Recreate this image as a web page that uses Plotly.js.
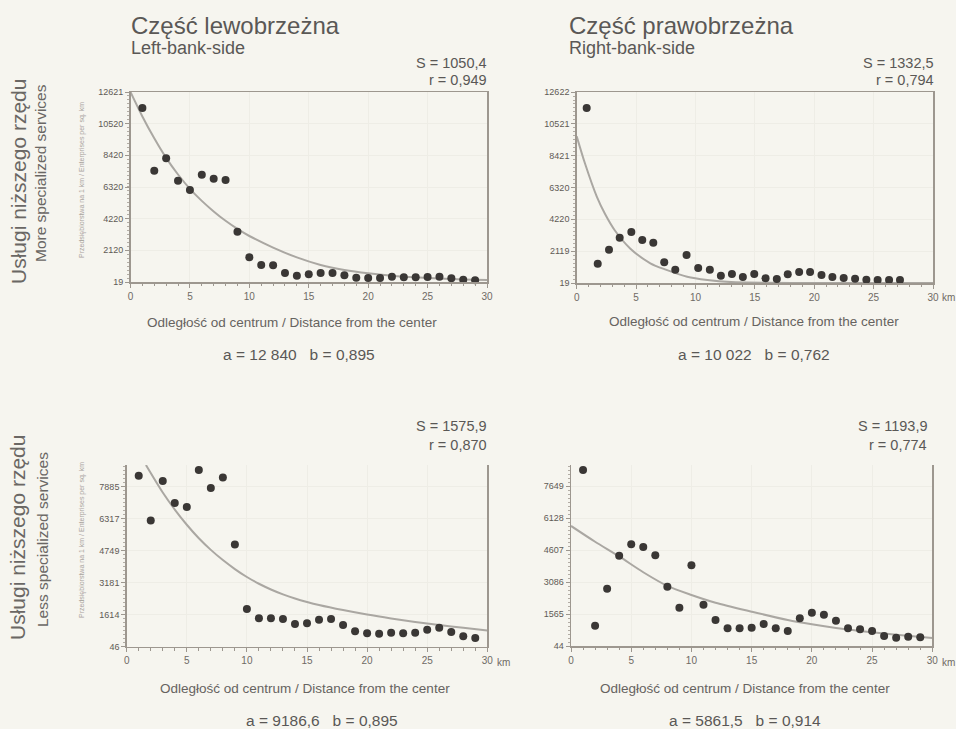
<!DOCTYPE html>
<html><head><meta charset="utf-8">
<script src="https://cdn.plot.ly/plotly-3.0.1.min.js"></script>
<style>html,body{margin:0;padding:0;background:#f6f5ef;}#chart{width:956px;height:729px;}</style>
</head><body><div id="chart"></div>
<script>
// ---- data ----
const distance = [1,2,3,4,5,6,7,8,9,10,11,12,13,14,15,16,17,18,19,20,21,22,23,24,25,26,27,28,29];
const leftMore = [11560,7404,8222,6740,6121,7138,6873,6785,3358,1655,1147,1125,616,439,527,616,616,461,306,284,284,373,329,329,351,373,262,174,130];
const rightMoreX = [0.84,1.77,2.72,3.62,4.60,5.52,6.45,7.37,8.30,9.25,10.23,11.21,12.14,13.07,13.99,14.95,15.90,16.85,17.77,18.73,19.65,20.61,21.53,22.48,23.44,24.39,25.34,26.30,27.22];
const rightMore = [11566,1295,2219,3010,3384,2856,2680,1383,899,1867,1009,899,503,613,415,613,327,283,591,745,745,547,415,349,305,239,217,217,217];
const leftLess = [8423,6235,8162,7084,6888,8701,7819,8342,5059,1891,1434,1434,1401,1156,1189,1369,1401,1107,797,699,683,732,699,732,879,977,765,552,471];
const rightLess = [8408,1010,2768,4337,4875,4748,4352,2864,1866,3877,2008,1280,884,884,915,1089,884,757,1359,1628,1533,1248,884,836,757,519,440,488,456];

const leftMoreFitX = [0,1,2,3,4,5,6,7,8,9,10,12,14,16,18,20,22,24,26,28,30];
const leftMoreFit = [12621,11000,9550,8250,7150,6200,5400,4700,4080,3540,3070,2300,1650,1150,820,600,440,330,250,190,150];
const rightMoreFitX = [0,0.7,1.7,2.4,3.2,4.5,6.2,7.5,9.3,11,13,16,20,25,30];
const rightMoreFit = [9700,7900,5700,4550,3500,2300,1320,900,435,220,80,35,25,22,20];
const leftLessFitX = [1.6,3,4,5,6,7,8,9,10,11,12,13,14,15,16,18,20,22,24,26,28,30];
const leftLessFit = [8949,7600,6765,6022,5360,4790,4290,3850,3460,3130,2850,2610,2410,2240,2090,1840,1620,1430,1260,1110,970,840];
const rightLessFitX = [0,2,4,6,8,10,12,15,18,20,22,25,27,30];
const rightLessFit = [5750,5000,4300,3550,2900,2470,2100,1676,1280,1074,900,693,580,424];

const xTicks = [0,5,10,15,20,25,30];
const xLabels = ["0","5","10","15","20","25","30"];
const yTicks1 = [19,2120,4220,6320,8420,10520,12621];
const yTicks2 = [19,2119,4220,6320,8421,10521,12622];
const yTicks3 = [46,1614,3181,4749,6317,7885];
const yTicks4 = [44,1565,3086,4607,6128,7649];

const titlesPL = ["Część lewobrzeżna","Część prawobrzeżna"];
const titlesEN = ["Left-bank-side","Right-bank-side"];
const sVals = ["S = 1050,4","S = 1332,5","S = 1575,9","S = 1193,9"];
const rVals = ["r = 0,949","r = 0,794","r = 0,870","r = 0,774"];
const abVals = ["a = 12 840&nbsp;&nbsp;&nbsp;b = 0,895","a = 10 022&nbsp;&nbsp;&nbsp;b = 0,762","a = 9186,6&nbsp;&nbsp;&nbsp;b = 0,895","a = 5861,5&nbsp;&nbsp;&nbsp;b = 0,914"];
const xTitle = "Odległość od centrum / Distance from the center";
const yTitle = "Przedsiębiorstwa na 1 km / Enterprises per sq. km";
const rowPL = ["Usługi niższego rzędu","Usługi niższego rzędu"];
const rowEN = ["More specialized services","Less specialized services"];

// ---- drawing ----
const W = 956, H = 729;
const fx = p => p / W, fy = p => 1 - p / H;
const FONT = "Liberation Sans, Arial, sans-serif";
const NARROW = "Liberation Sans Narrow, Liberation Sans, Arial, sans-serif";
const dotColor = "#3a3735", fitColor = "#aaa7a2", axisColor = "#9d978f";

function pts(x, y, ax) {
  return {x: x, y: y, type: "scatter", mode: "markers", xaxis: "x" + ax, yaxis: "y" + ax,
    marker: {size: 8, color: dotColor, line: {width: 0}}, hoverinfo: "x+y", showlegend: false, cliponaxis: false};
}
function fit(x, y, ax) {
  return {x: x, y: y, type: "scatter", mode: "lines", xaxis: "x" + ax, yaxis: "y" + ax,
    line: {color: fitColor, width: 2, shape: "spline", smoothing: 0.8}, hoverinfo: "skip", showlegend: false};
}
const data = [
  fit(leftMoreFitX, leftMoreFit, ""), pts(distance, leftMore, ""),
  fit(rightMoreFitX, rightMoreFit, "2"), pts(rightMoreX, rightMore, "2"),
  fit(leftLessFitX, leftLessFit, "3"), pts(distance, leftLess, "3"),
  fit(rightLessFitX, rightLessFit, "4"), pts(distance, rightLess, "4")
];

function xax(d, anchor, mirror) {
  return {domain: d, anchor: anchor, range: [0, 30], tickvals: xTicks, ticktext: xLabels,
    showline: true, linecolor: axisColor, linewidth: 1.5, mirror: mirror,
    ticks: "outside", ticklen: 4, tickcolor: axisColor, tickfont: {family: NARROW, size: 10, color: "#6f6a65"},
    minor: {dtick: 1, tick0: 0, ticks: "outside", ticklen: 2.5, tickcolor: axisColor, showgrid: false},
    showgrid: true, gridcolor: "#eeede6", gridwidth: 1, zeroline: false, fixedrange: true};
}
function yax(d, anchor, range, ticks) {
  const step = (ticks[1] - ticks[0]) / 8;
  return {domain: d, anchor: anchor, range: range, tickvals: ticks, ticktext: ticks.map(String),
    showline: true, linecolor: axisColor, linewidth: 1.5, mirror: true,
    ticks: "outside", ticklen: 4, tickcolor: axisColor, tickfont: {family: NARROW, size: 9, color: "#5f5a55"},
    minor: {dtick: step, tick0: ticks[0], ticks: "outside", ticklen: 2, tickcolor: "#b3ada5", showgrid: false},
    showgrid: true, gridcolor: "#eeede6", gridwidth: 1, zeroline: false, fixedrange: true};
}

const layout = {
  width: W, height: H, margin: {l: 0, r: 0, t: 0, b: 0},
  paper_bgcolor: "#f6f5ef", plot_bgcolor: "rgba(0,0,0,0)", showlegend: false,
  xaxis:  xax([fx(130.5), fx(487)], "y", true),
  yaxis:  yax([fy(282), fy(92)], "x", [19, 12621], yTicks1),
  xaxis2: xax([fx(576.7), fx(933)], "y2", true),
  yaxis2: yax([fy(283), fy(92)], "x2", [19, 12622], yTicks2),
  xaxis3: xax([fx(126.7), fx(487.3)], "y3", false),
  yaxis3: yax([fy(646.7), fy(465)], "x3", [46, 8949], yTicks3),
  xaxis4: xax([fx(571), fx(932.3)], "y4", false),
  yaxis4: yax([fy(646), fy(465)], "x4", [44, 8647], yTicks4),
  annotations: []
};

function ann(text, x, y, size, xanchor, color, extra) {
  layout.annotations.push(Object.assign({text: text, x: fx(x), y: fy(y), xref: "paper", yref: "paper",
    xanchor: xanchor, yanchor: "middle", showarrow: false,
    font: {family: FONT, size: size, color: color}}, extra || {}));
}
// column titles
ann(titlesPL[0], 129, 25, 24, "left", "#5a5856");
ann(titlesEN[0], 129, 48, 18, "left", "#5a5856");
ann(titlesPL[1], 567, 25, 24, "left", "#5a5856");
ann(titlesEN[1], 567, 48, 18, "left", "#5a5856");
// S and r
const sPos = [[489, 63, 80], [936, 63, 80], [489, 426, 445], [929, 426, 445]];
sPos.forEach((p, i) => {
  ann(sVals[i], p[0], p[1], 14.5, "right", "#5a5856");
  ann(rVals[i], p[0], p[2], 14.5, "right", "#5a5856");
});
// x titles and a/b
const xtPos = [[292, 322], [754, 321], [305, 688], [745, 688]];
const abPos = [[299, 354], [754, 354], [322, 720], [745, 720]];
xtPos.forEach((p, i) => ann(xTitle, p[0], p[1], 13.5, "center", "#666360"));
abPos.forEach((p, i) => ann(abVals[i], p[0], p[1], 15.5, "center", "#5a5856"));
// km units
[[940, 297], [495, 662], [940, 662]].forEach(p => ann("km", p[0], p[1], 10, "left", "#6f6a65", {font: {family: NARROW, size: 10, color: "#6f6a65"}}));
// small y titles
ann(yTitle, 82, 180, 7, "center", "#a9a49e", {textangle: -90});
ann(yTitle, 82, 540, 7, "center", "#a9a49e", {textangle: -90});
// row labels
ann(rowPL[0], 18, 182, 21, "center", "#6a6764", {textangle: -90});
ann(rowEN[0], 40, 173, 15.5, "center", "#6a6764", {textangle: -90});
ann(rowPL[1], 17, 538, 21, "center", "#6a6764", {textangle: -90});
ann(rowEN[1], 42, 540, 15.5, "center", "#6a6764", {textangle: -90});

Plotly.newPlot("chart", data, layout, {staticPlot: true, displayModeBar: false});
</script>
</body></html>
